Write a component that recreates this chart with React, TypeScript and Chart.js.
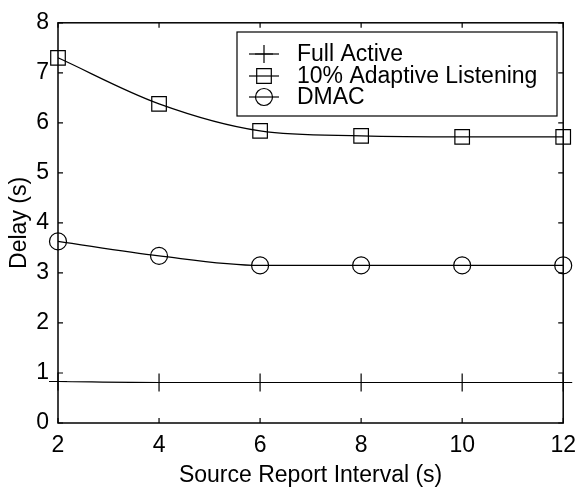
import React, { useEffect, useRef } from 'react';
import { Chart, registerables } from 'chart.js';

Chart.register(...registerables);

const intervals = [2, 4, 6, 8, 10, 12];
const fullActive = [0.83, 0.81, 0.81, 0.81, 0.81, 0.81];
const adaptive = [7.3, 6.38, 5.84, 5.74, 5.72, 5.72];
const dmac = [3.63, 3.34, 3.15, 3.15, 3.15, 3.15];
const seriesNames = ['Full Active', '10% Adaptive Listening', 'DMAC'];
const xTicks = [2, 4, 6, 8, 10, 12];
const yTicks = [0, 1, 2, 3, 4, 5, 6, 7, 8];
const xTitle = 'Source Report Interval (s)';
const yTitle = 'Delay (s)';

const FONT = "'Liberation Sans', Arial, Helvetica, sans-serif";
const FS = 23;

function drawMarker(ctx: CanvasRenderingContext2D, style: string, x: number, y: number) {
  ctx.beginPath();
  if (style === 'cross') {
    ctx.moveTo(x - 9, y);
    ctx.lineTo(x + 9, y);
    ctx.moveTo(x, y - 9);
    ctx.lineTo(x, y + 9);
  } else if (style === 'rect') {
    ctx.rect(x - 7.3, y - 7.3, 14.6, 14.6);
  } else {
    ctx.arc(x, y, 8.5, 0, Math.PI * 2);
  }
  ctx.stroke();
}

const framePlugin = {
  id: 'frame',
  afterDatasetsDraw(chart: any) {
    const { ctx, chartArea: a, scales } = chart;
    ctx.save();
    ctx.strokeStyle = '#000';
    ctx.lineWidth = 1.5;
    ctx.strokeRect(a.left, a.top, a.right - a.left, a.bottom - a.top);
    ctx.lineWidth = 1.2;
    const tl = 5;
    ctx.beginPath();
    xTicks.forEach((v) => {
      const px = scales.x.getPixelForValue(v);
      ctx.moveTo(px, a.bottom);
      ctx.lineTo(px, a.bottom - tl);
      ctx.moveTo(px, a.top);
      ctx.lineTo(px, a.top + tl);
    });
    yTicks.forEach((v) => {
      const py = scales.y.getPixelForValue(v);
      ctx.moveTo(a.left, py);
      ctx.lineTo(a.left + tl, py);
      ctx.moveTo(a.right, py);
      ctx.lineTo(a.right - tl, py);
    });
    ctx.stroke();

    // legend
    const bx = 237, by = 32, bw = 320, bh = 84;
    ctx.fillStyle = '#fff';
    ctx.fillRect(bx, by, bw, bh);
    ctx.lineWidth = 1.2;
    ctx.strokeRect(bx, by, bw, bh);
    const styles = ['cross', 'rect', 'circle'];
    const rows = [54, 76, 97];
    ctx.font = `${FS}px ${FONT}`;
    ctx.textBaseline = 'middle';
    ctx.textAlign = 'left';
    seriesNames.forEach((name, i) => {
      const y = rows[i];
      ctx.strokeStyle = '#000';
      ctx.lineWidth = 1.2;
      ctx.beginPath();
      ctx.moveTo(249, y);
      ctx.lineTo(279, y);
      ctx.stroke();
      drawMarker(ctx, styles[i], 264, y);
      ctx.fillStyle = '#000';
      ctx.fillText(name, 297, y + 1);
    });
    ctx.restore();
  },
};

export default function App() {
  const ref = useRef<HTMLCanvasElement>(null);
  useEffect(() => {
    if (!ref.current) return;
    const mk = (data: number[], label: string, style: string, radius: number) => ({
      label,
      data: intervals.map((x, i) => ({ x, y: data[i] })),
      borderColor: '#000',
      borderWidth: 1.2,
      pointStyle: style,
      pointRadius: radius,
      pointBorderWidth: 1.2,
      pointBorderColor: '#000',
      pointBackgroundColor: 'rgba(0,0,0,0)',
      cubicInterpolationMode: 'monotone',
      clip: false,
      fill: false,
    });
    const chart = new Chart(ref.current, {
      type: 'line',
      data: {
        datasets: [
          mk(fullActive, seriesNames[0], 'cross', 9),
          mk(adaptive, seriesNames[1], 'rect', 10.3),
          mk(dmac, seriesNames[2], 'circle', 8.5),
        ] as any,
      },
      options: {
        animation: false,
        responsive: false,
        events: [],
        layout: { padding: { left: 0, right: 13, top: 17, bottom: 0 } },
        plugins: { legend: { display: false }, tooltip: { enabled: false } },
        scales: {
          x: {
            type: 'linear',
            min: 2,
            max: 12,
            afterBuildTicks: (s: any) => {
              s.ticks = xTicks.map((v) => ({ value: v }));
            },
            afterFit: (s: any) => {
              s.height = 66;
            },
            ticks: { font: { size: FS, family: FONT }, color: '#000', padding: 9, maxRotation: 0, autoSkip: false },
            grid: { display: false, drawTicks: false },
            border: { display: false },
            title: { display: true, text: xTitle, font: { size: FS, family: FONT }, color: '#000', padding: { top: 0, bottom: 0 } },
          },
          y: {
            type: 'linear',
            min: 0,
            max: 8,
            afterBuildTicks: (s: any) => {
              s.ticks = yTicks.map((v) => ({ value: v }));
            },
            afterFit: (s: any) => {
              s.width = 58;
            },
            ticks: { font: { size: FS, family: FONT }, color: '#000', padding: 9, autoSkip: false },
            grid: { display: false, drawTicks: false },
            border: { display: false },
            title: { display: true, text: yTitle, font: { size: FS, family: FONT }, color: '#000', padding: { top: 6, bottom: 0 } },
          },
        },
      } as any,
      plugins: [framePlugin],
    });
    return () => chart.destroy();
  }, []);
  return (
    <div style={{ position: 'absolute', left: 0, top: 0, width: 585, height: 489, background: '#fff' }}>
      <canvas ref={ref} width={585} height={489} />
    </div>
  );
}
